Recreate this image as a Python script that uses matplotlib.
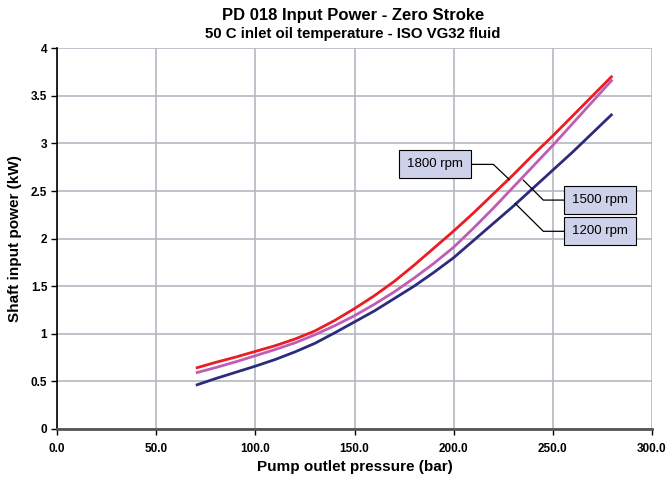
import matplotlib
matplotlib.use("Agg")
import matplotlib.pyplot as plt

# Data
pressure_bar = [70, 80, 90, 100, 110, 120, 130, 140, 150, 160, 170, 180, 190,
                200, 210, 220, 230, 240, 250, 260, 270, 280]
power_1800 = [0.64, 0.70, 0.755, 0.815, 0.875, 0.945, 1.03, 1.14, 1.265, 1.40,
              1.55, 1.72, 1.90, 2.08, 2.27, 2.47, 2.67, 2.88, 3.08, 3.29, 3.50, 3.71]
power_1500 = [0.59, 0.645, 0.705, 0.77, 0.835, 0.905, 0.99, 1.085, 1.19, 1.31,
              1.44, 1.585, 1.74, 1.91, 2.11, 2.32, 2.54, 2.76, 2.98, 3.21, 3.44, 3.67]
power_1200 = [0.46, 0.53, 0.595, 0.66, 0.73, 0.81, 0.90, 1.01, 1.125, 1.24,
              1.37, 1.50, 1.645, 1.80, 1.98, 2.16, 2.34, 2.53, 2.72, 2.91, 3.11, 3.31]
series_labels = ["1800 rpm", "1500 rpm", "1200 rpm"]
x_ticks = [0, 50, 100, 150, 200, 250, 300]
y_ticks = [0, 0.5, 1, 1.5, 2, 2.5, 3, 3.5, 4]
y_tick_labels = ["0", "0.5", "1", "1.5", "2", "2.5", "3", "3.5", "4"]

plt.rcParams['font.family'] = ['Liberation Sans', 'DejaVu Sans']

fig = plt.figure(figsize=(6.66, 4.91), dpi=100)
ax = fig.add_axes([0.0856, 0.1263, 0.979 - 0.0856, 0.9017 - 0.1263])

colors = ["#ec1c24", "#c05cb4", "#2b2d7c"]
for ys, c in zip([power_1800, power_1500, power_1200], colors):
    ax.plot(pressure_bar, ys, color=c, lw=2.0, solid_capstyle='butt', zorder=3)

ax.set_xlim(0, 300)
ax.set_ylim(0, 4)
ax.set_xticks(x_ticks)
ax.set_xticklabels([f"{v:.1f}" for v in x_ticks])
ax.set_yticks(y_ticks)
ax.set_yticklabels(y_tick_labels)
ax.grid(True, color="#b4b7c2", lw=1.2)
ax.set_axisbelow(True)
for s in ["top", "right"]:
    ax.spines[s].set_visible(False)
ax.spines["left"].set_color("black")
ax.spines["left"].set_linewidth(1.2)
ax.spines["bottom"].set_color("#555555")
ax.spines["bottom"].set_linewidth(2.0)
ax.tick_params(axis='x', length=4, width=1, pad=6, labelsize=8.5)
ax.tick_params(axis='y', length=4, width=1, pad=3, labelsize=8.5)
for lab in ax.get_xticklabels() + ax.get_yticklabels():
    lab.set_fontweight('bold')

ax.set_xlabel("Pump outlet pressure (bar)", fontsize=11, fontweight='bold', labelpad=4)
ax.set_ylabel("Shaft input power (kW)", fontsize=11, fontweight='bold', labelpad=6)

fig.text(0.53, 0.968, "PD 018 Input Power - Zero Stroke", ha='center', va='center',
         fontsize=12, fontweight='bold')
fig.text(0.53, 0.930, "50 C inlet oil temperature - ISO VG32 fluid", ha='center', va='center',
         fontsize=10.8, fontweight='bold')

# Annotation boxes with leader lines
box = dict(boxstyle="square,pad=0.6", fc="#ced1ea", ec="black", lw=0.8)
ann = [
    (series_labels[0], (190.5, 2.78), [(220.0, 2.78), (228.1, 2.62)]),
    (series_labels[1], (273.8, 2.405), [(245.2, 2.405), (235.1, 2.615)]),
    (series_labels[2], (273.8, 2.077), [(245.2, 2.077), (231.0, 2.37)]),
]
for i, (txt, (bx, by), pts) in enumerate(ann):
    edge_x = bx + (18 if i == 0 else -18)
    xs = [edge_x] + [p[0] for p in pts]
    ys = [by] + [p[1] for p in pts]
    ax.plot(xs, ys, color="black", lw=0.9, zorder=4)
    ax.text(bx, by, txt, ha='center', va='center', fontsize=9.5, bbox=box, zorder=5)

fig.savefig("out.png", dpi=100)
